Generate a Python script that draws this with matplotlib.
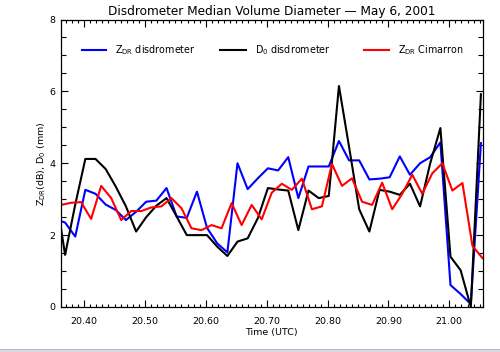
import matplotlib
matplotlib.use("Agg")
import matplotlib.pyplot as plt
from matplotlib.lines import Line2D
from matplotlib.patches import Rectangle
from matplotlib.ticker import MultipleLocator

# ---- data ----
disd_time = [20.3520, 20.3687, 20.3854, 20.4020, 20.4187, 20.4354, 20.4520, 20.4687,
             20.4854, 20.5020, 20.5187, 20.5354, 20.5520, 20.5687, 20.5854, 20.6020,
             20.6187, 20.6354, 20.6520, 20.6687, 20.6854, 20.7020, 20.7187, 20.7354,
             20.7520, 20.7687, 20.7854, 20.8020, 20.8187, 20.8354, 20.8520, 20.8687,
             20.8854, 20.9020, 20.9187, 20.9354, 20.9520, 20.9687, 20.9854, 21.0020,
             21.0187, 21.0354, 21.0520]
zdr_disd = [2.45, 2.35, 1.96, 3.26, 3.15, 2.85, 2.70, 2.42, 2.65, 2.93, 2.96, 3.31,
            2.52, 2.48, 3.21, 2.20, 1.77, 1.52, 4.00, 3.28, 3.58, 3.86, 3.80, 4.17,
            3.03, 3.91, 3.91, 3.91, 4.62, 4.08, 4.08, 3.55, 3.57, 3.61, 4.19, 3.68,
            4.00, 4.17, 4.58, 0.61, 0.36, 0.08, 4.56]
d0_disd = [3.30, 1.45, 2.85, 4.12, 4.12, 3.84, 3.35, 2.80, 2.10, 2.50, 2.82, 3.03,
           2.52, 2.00, 2.00, 2.00, 1.68, 1.42, 1.82, 1.91, 2.47, 3.31, 3.27, 3.24,
           2.14, 3.24, 3.03, 3.09, 6.15, 4.45, 2.72, 2.10, 3.26, 3.21, 3.12, 3.43,
           2.80, 4.00, 4.98, 1.40, 1.02, 0.00, 5.92]

radar_time = [20.3620, 20.3785, 20.3950, 20.4115, 20.4280, 20.4445, 20.4609, 20.4774,
              20.4939, 20.5104, 20.5269, 20.5434, 20.5599, 20.5764, 20.5929, 20.6094,
              20.6258, 20.6423, 20.6588, 20.6753, 20.6918, 20.7083, 20.7248, 20.7413,
              20.7578, 20.7743, 20.7907, 20.8072, 20.8237, 20.8402, 20.8567, 20.8732,
              20.8897, 20.9062, 20.9227, 20.9392, 20.9556, 20.9721, 20.9886, 21.0051,
              21.0216, 21.0381, 21.0546]
zdr_cim = [2.84, 2.90, 2.92, 2.45, 3.37, 3.03, 2.42, 2.67, 2.67, 2.77, 2.80, 3.03,
           2.75, 2.19, 2.14, 2.28, 2.19, 2.89, 2.28, 2.84, 2.44, 3.18, 3.43, 3.26,
           3.57, 2.72, 2.80, 3.98, 3.37, 3.58, 2.93, 2.84, 3.46, 2.72, 3.15, 3.68,
           3.15, 3.72, 4.00, 3.24, 3.45, 1.70, 1.36]

xticks = [20.40, 20.50, 20.60, 20.70, 20.80, 20.90, 21.00]
xticklabels = ["20.40", "20.50", "20.60", "20.70", "20.80", "20.90", "21.00"]
yticks = [0, 2, 4, 6, 8]

labels = ["Z$_{\\mathrm{DR}}$ disdrometer", "D$_{\\mathrm{0}}$ disdrometer",
          "Z$_{\\mathrm{DR}}$ Cimarron"]
colors = ["#0000ff", "#000000", "#ff0000"]

plt.rcParams['font.family'] = ['DejaVu Sans']
plt.rcParams['mathtext.fontset'] = 'dejavusans'

fig = plt.figure(figsize=(5.0, 3.52), dpi=100)
fig.patch.set_facecolor('white')
ax = fig.add_axes([61/500, 1 - 307/352, 421.5/500, 287.5/352])

lw = 1.5
ax.plot(disd_time, zdr_disd, color=colors[0], lw=lw, clip_on=True)
ax.plot(disd_time, d0_disd, color=colors[1], lw=lw, clip_on=True)
ax.plot(radar_time, zdr_cim, color=colors[2], lw=lw, clip_on=True)

ax.set_xlim(radar_time[0], radar_time[-1])
ax.set_ylim(0, 8)
ax.set_xticks(xticks)
ax.set_xticklabels(xticklabels)
ax.set_yticks(yticks)
ax.xaxis.set_minor_locator(MultipleLocator(0.01))
ax.yaxis.set_minor_locator(MultipleLocator(0.5))
ax.tick_params(which='both', direction='in', top=True, right=True, width=0.8,
               labelsize=6.8, colors='black')
ax.tick_params(axis='x', which='major', length=5, pad=7)
ax.tick_params(axis='x', which='minor', length=2.5)
ax.tick_params(axis='y', which='major', length=5, pad=4)
ax.tick_params(axis='y', which='minor', length=3.5)
for s in ax.spines.values():
    s.set_linewidth(0.9)

ax.set_title("Disdrometer Median Volume Diameter \u2014 May 6, 2001",
             fontsize=8.7, pad=3.5)
ax.set_xlabel("Time (UTC)", fontsize=6.8, labelpad=2)
ax.set_ylabel("Z$_{\\mathrm{DR}}$(dB), D$_{\\mathrm{0}}$ (mm)", fontsize=6.8)
ax.yaxis.set_label_coords(-0.032, 0.5)

# legend (manual, inside the plot)
leg_y = 1 - (50 - 19.5) / 287.5
handle_x = [(82, 106), (220, 246), (364, 389)]
text_x = [115, 255, 398]
for (x0, x1), tx, lab, c in zip(handle_x, text_x, labels, colors):
    ax.add_line(Line2D([(x0 - 61) / 421.5, (x1 - 61) / 421.5], [leg_y, leg_y],
                       transform=ax.transAxes, color=c, lw=lw))
    ax.text((tx - 61) / 421.5, leg_y, lab, transform=ax.transAxes,
            fontsize=6.9, va='center', ha='left')

# window border strip at the bottom
fig.patches.append(Rectangle((0, 0), 1, 3 / 352, transform=fig.transFigure,
                             facecolor='#d8d8e0', edgecolor='none'))
fig.patches.append(Rectangle((0, 2.5 / 352), 1, 1 / 352, transform=fig.transFigure,
                             facecolor='#b8b8c8', edgecolor='none'))

fig.savefig("out.png", dpi=100)
